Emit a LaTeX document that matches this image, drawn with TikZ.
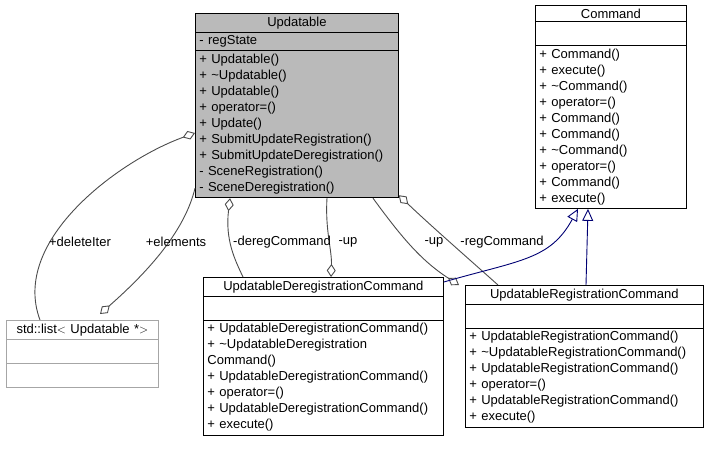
\documentclass[tikz,border=0pt]{standalone}
\usepackage{fontspec}
\setmainfont{Liberation Sans}
\usetikzlibrary{arrows.meta,calc,shapes.multipart}

\tikzset{
  cls/.style={draw=black, rectangle split, rectangle split parts=3, anchor=north west,
    inner xsep=4pt, inner ysep=3pt, line width=0.8pt,
    font=\fontsize{13}{16}\selectfont, fill=white},
  agg/.style={draw=black!70, line width=0.9pt, {Diamond[open,length=13pt,width=9pt]}-},
  inh/.style={draw=blue!45!black, line width=0.9pt, -{Triangle[open,length=12pt,width=11pt]}},
  lbl/.style={font=\fontsize{13}{14}\selectfont, inner sep=1pt},
}
\newcommand{\ttl}[1]{\centering #1\par}
\newcommand{\gap}{\rule{0pt}{17pt}}

\begin{document}
\begin{tikzpicture}[x=1pt,y=-1pt]
            \useasboundingbox (0,0) rectangle (707,448);
            % classes
            \node[cls, fill=black!27, text width=195pt] (upd) at (195,13)
              {\ttl{Updatable}\nodepart{two}- regState\nodepart{three}+ Updatable()\\+ \textasciitilde Updatable()\\+ Updatable()\\+ operator=()\\+ Update()\\+ SubmitUpdateRegistration()\\+ SubmitUpdateDeregistration()\\- SceneRegistration()\\- SceneDeregistration()};
            \node[cls, text width=143pt] (cmd) at (535,5)
              {\ttl{Command}\nodepart{two}\gap\nodepart{three}+ Command()\\+ execute()\\+ \textasciitilde Command()\\+ operator=()\\+ Command()\\+ Command()\\+ \textasciitilde Command()\\+ operator=()\\+ Command()\\+ execute()};
            \node[cls, draw=black!35, text width=144pt] (lst) at (6,320)
              {\ttl{std::list$<$ Updatable *$>$}\nodepart{two}\gap\nodepart{three}\gap};
            \node[cls, text width=232pt] (dereg) at (203,277)
              {\ttl{UpdatableDeregistrationCommand}\nodepart{two}\gap\nodepart{three}+ UpdatableDeregistrationCommand()\\+ \textasciitilde UpdatableDeregistration\\Command()\\+ UpdatableDeregistrationCommand()\\+ operator=()\\+ UpdatableDeregistrationCommand()\\+ execute()};
            \node[cls, text width=230pt] (reg) at (465,285)
              {\ttl{UpdatableRegistrationCommand}\nodepart{two}\gap\nodepart{three}+ UpdatableRegistrationCommand()\\+ \textasciitilde UpdatableRegistrationCommand()\\+ UpdatableRegistrationCommand()\\+ operator=()\\+ UpdatableRegistrationCommand()\\+ execute()};
            % associations
            \draw[agg] ($(upd.north west)+(0,120)$) .. controls (120,160) and (10,240) .. ($(lst.north west)+(34,0)$);
            \draw[agg] ($(lst.north west)+(94,-6)$) .. controls (150,270) and (185,230) .. ($(upd.south west)+(0,-10)$);
            \draw[agg] ($(upd.south west)+(35,0)$) .. controls (225,240) and (235,260) .. ($(dereg.north west)+(40,0)$);
            \draw[agg] ($(dereg.north west)+(128,0)$) .. controls (332,250) and (325,230) .. ($(upd.south west)+(132,0)$);
            \draw[agg] ($(reg.north west)+(-6,0)$) .. controls (420,260) and (400,235) .. ($(upd.south west)+(178,0)$);
            \draw[agg] ($(upd.south east)+(0,-3)$) .. controls (430,225) and (470,260) .. ($(reg.north west)+(33,0)$);
            % inheritance
            \draw[inh] ($(dereg.north east)+(0,5)$) .. controls (520,260) and (550,260) .. ($(cmd.south west)+(43,0)$);
            \draw[inh] ($(reg.north west)+(121,0)$) -- ($(cmd.south west)+(53,0)$);
            % labels
            \node[lbl] (l1) at (80,242) {+deleteIter};
            \node[lbl] (l2) at (176,242) {+elements};
            \node[lbl] (l3) at (282,242) {-deregCommand};
            \node[lbl] (l4) at (348,242) {-up};
            \node[lbl] (l5) at (434,242) {-up};
            \node[lbl] (l6) at (502,242) {-regCommand};
\end{tikzpicture}
\end{document}
